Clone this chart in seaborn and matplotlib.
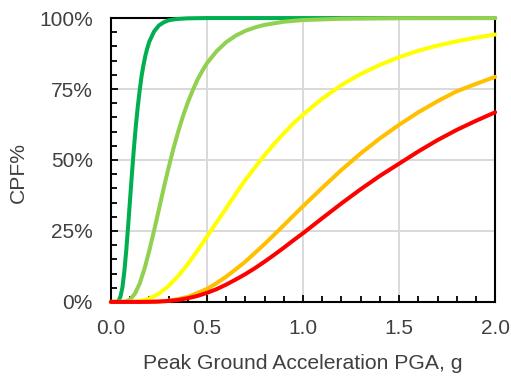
import pandas as pd
import matplotlib
matplotlib.use('Agg')
import matplotlib.pyplot as plt
import seaborn as sns
from matplotlib.ticker import MultipleLocator, PercentFormatter

# Curves (PGA in g, CPF in %)
dg_x = [0, 0.03, 0.04, 0.05, 0.06, 0.07, 0.08, 0.09, 0.10, 0.11, 0.12, 0.13, 0.14,
        0.15, 0.16, 0.17, 0.18, 0.19, 0.20, 0.225, 0.25, 0.275, 0.30, 0.325, 0.35,
        0.40, 0.5, 1.0, 2.0]
dg_y = [0, 0.04, 0.4, 1.9, 5.1, 10.7, 18.1, 27.0, 36.3, 45.6, 54.3, 62.1, 68.8,
        74.6, 79.7, 83.6, 86.9, 89.5, 91.7, 95.3, 97.4, 98.5, 99.2, 99.5, 99.7,
        99.9, 100, 100, 100]

lg_x = [0, 0.06, 0.08, 0.10, 0.125, 0.15, 0.175, 0.20, 0.225, 0.25, 0.275, 0.30,
        0.325, 0.35, 0.375, 0.40, 0.425, 0.45, 0.475, 0.50, 0.55, 0.60, 0.65, 0.70,
        0.75, 0.80, 0.9, 1.0, 1.2, 1.5, 2.0]
lg_y = [0, 0.03, 0.2, 0.9, 2.9, 6.5, 11.7, 18.1, 25.2, 32.6, 40.1, 47.2,
        53.9, 59.9, 65.4, 70.2, 74.4, 78.2, 81.3, 84.1, 88.3, 91.5, 93.8, 95.5,
        96.7, 97.6, 98.7, 99.3, 99.75, 99.95, 100]

ye_x = [0, 0.1, 0.15, 0.2, 0.25, 0.3, 0.35, 0.4, 0.45, 0.5, 0.55, 0.6, 0.65, 0.7,
        0.75, 0.8, 0.85, 0.9, 0.95, 1.0, 1.1, 1.2, 1.3, 1.4, 1.5, 1.6, 1.7, 1.8,
        1.9, 2.0]
ye_y = [0, 0.03, 0.3, 1.2, 2.9, 5.6, 9.1, 13.3, 18.0, 23, 28.0, 33, 38.1, 43,
        47.4, 51.7, 55.7, 59.4, 62.9, 66, 71.6, 76.4, 80.3, 83.5, 86.2, 88.5, 90.3, 91.8,
        93.1, 94.2]

or_x = [0, 0.15, 0.2, 0.25, 0.3, 0.35, 0.4, 0.45, 0.5, 0.55, 0.6, 0.65, 0.7, 0.75,
        0.8, 0.85, 0.9, 0.95, 1.0, 1.1, 1.2, 1.3, 1.4, 1.5, 1.6, 1.7, 1.8, 1.9, 2.0]
or_y = [0, 0.005, 0.04, 0.16, 0.45, 1.0, 1.8, 3.1, 4.6, 6.6, 8.9, 11.5, 14.2, 17.3,
        20.4, 23.7, 27, 30.4, 33.7, 40.2, 46.5, 52.3, 57.6, 62.4, 66.8, 70.7, 74.2, 76.8, 79.3]

rd_x = [0, 0.15, 0.2, 0.25, 0.3, 0.35, 0.4, 0.45, 0.5, 0.55, 0.6, 0.65, 0.7, 0.75,
        0.8, 0.85, 0.9, 0.95, 1.0, 1.1, 1.2, 1.3, 1.4, 1.5, 1.6, 1.7, 1.8, 1.9, 2.0]
rd_y = [0, 0.005, 0.04, 0.13, 0.35, 0.7, 1.3, 2.1, 3.2, 4.5, 6.1, 7.9, 9.8, 11.9,
        14.2, 16.6, 19.1, 21.7, 24.2, 29.5, 34.7, 39.7, 44.4, 48.7, 53.0, 57.0, 60.6, 63.8, 66.8]

curve_names = ['dark green', 'light green', 'yellow', 'orange', 'red']
curve_colors = ['#00B050', '#92D050', '#FFFF00', '#FFC000', '#FF0000']

frames = []
for name, xs, ys in zip(curve_names, [dg_x, lg_x, ye_x, or_x, rd_x],
                        [dg_y, lg_y, ye_y, or_y, rd_y]):
    frames.append(pd.DataFrame({'pga': xs, 'cpf': ys, 'curve': name}))
df = pd.concat(frames, ignore_index=True)

sns.set_style('ticks')
plt.rcParams['font.family'] = ['Liberation Sans', 'DejaVu Sans']

fig = plt.figure(figsize=(5.11, 3.76), dpi=100)
ax = fig.add_axes([0.217, 0.197, 0.752, 0.755])

sns.lineplot(data=df, x='pga', y='cpf', hue='curve', hue_order=curve_names,
             palette=dict(zip(curve_names, curve_colors)), estimator=None,
             sort=False, linewidth=2.9, legend=False, clip_on=False,
             zorder=4, ax=ax)
for line in ax.get_lines():
    line.set_solid_joinstyle('round')

ax.set_xlim(0, 2.0)
ax.set_ylim(0, 100)
ax.xaxis.set_major_locator(MultipleLocator(0.5))
ax.xaxis.set_minor_locator(MultipleLocator(0.1))
ax.yaxis.set_major_locator(MultipleLocator(25))
ax.yaxis.set_minor_locator(MultipleLocator(5))
ax.yaxis.set_major_formatter(PercentFormatter(100, decimals=0))
ax.xaxis.set_major_formatter(lambda v, pos: f'{v:.1f}')

ax.grid(True, which='major', color='#D9D9D9', linewidth=1.4)
ax.set_axisbelow(True)
for s in ax.spines.values():
    s.set_color('black')
    s.set_linewidth(1.5)

text_color = '#404040'
ax.tick_params(which='both', direction='in', color='black', width=1.3,
               labelsize=15, labelcolor=text_color)
ax.tick_params(which='major', length=5)
ax.tick_params(which='minor', length=4)
ax.tick_params(axis='y', which='both', pad=13)
ax.tick_params(axis='x', which='both', pad=12)

ax.set_xlabel('Peak Ground Acceleration PGA, g', fontsize=15.2, color=text_color, labelpad=12)
ax.set_ylabel('CPF%', fontsize=15.2, color=text_color)
ax.yaxis.set_label_coords(-0.215, 0.455)

fig.savefig('out.png', dpi=100)
